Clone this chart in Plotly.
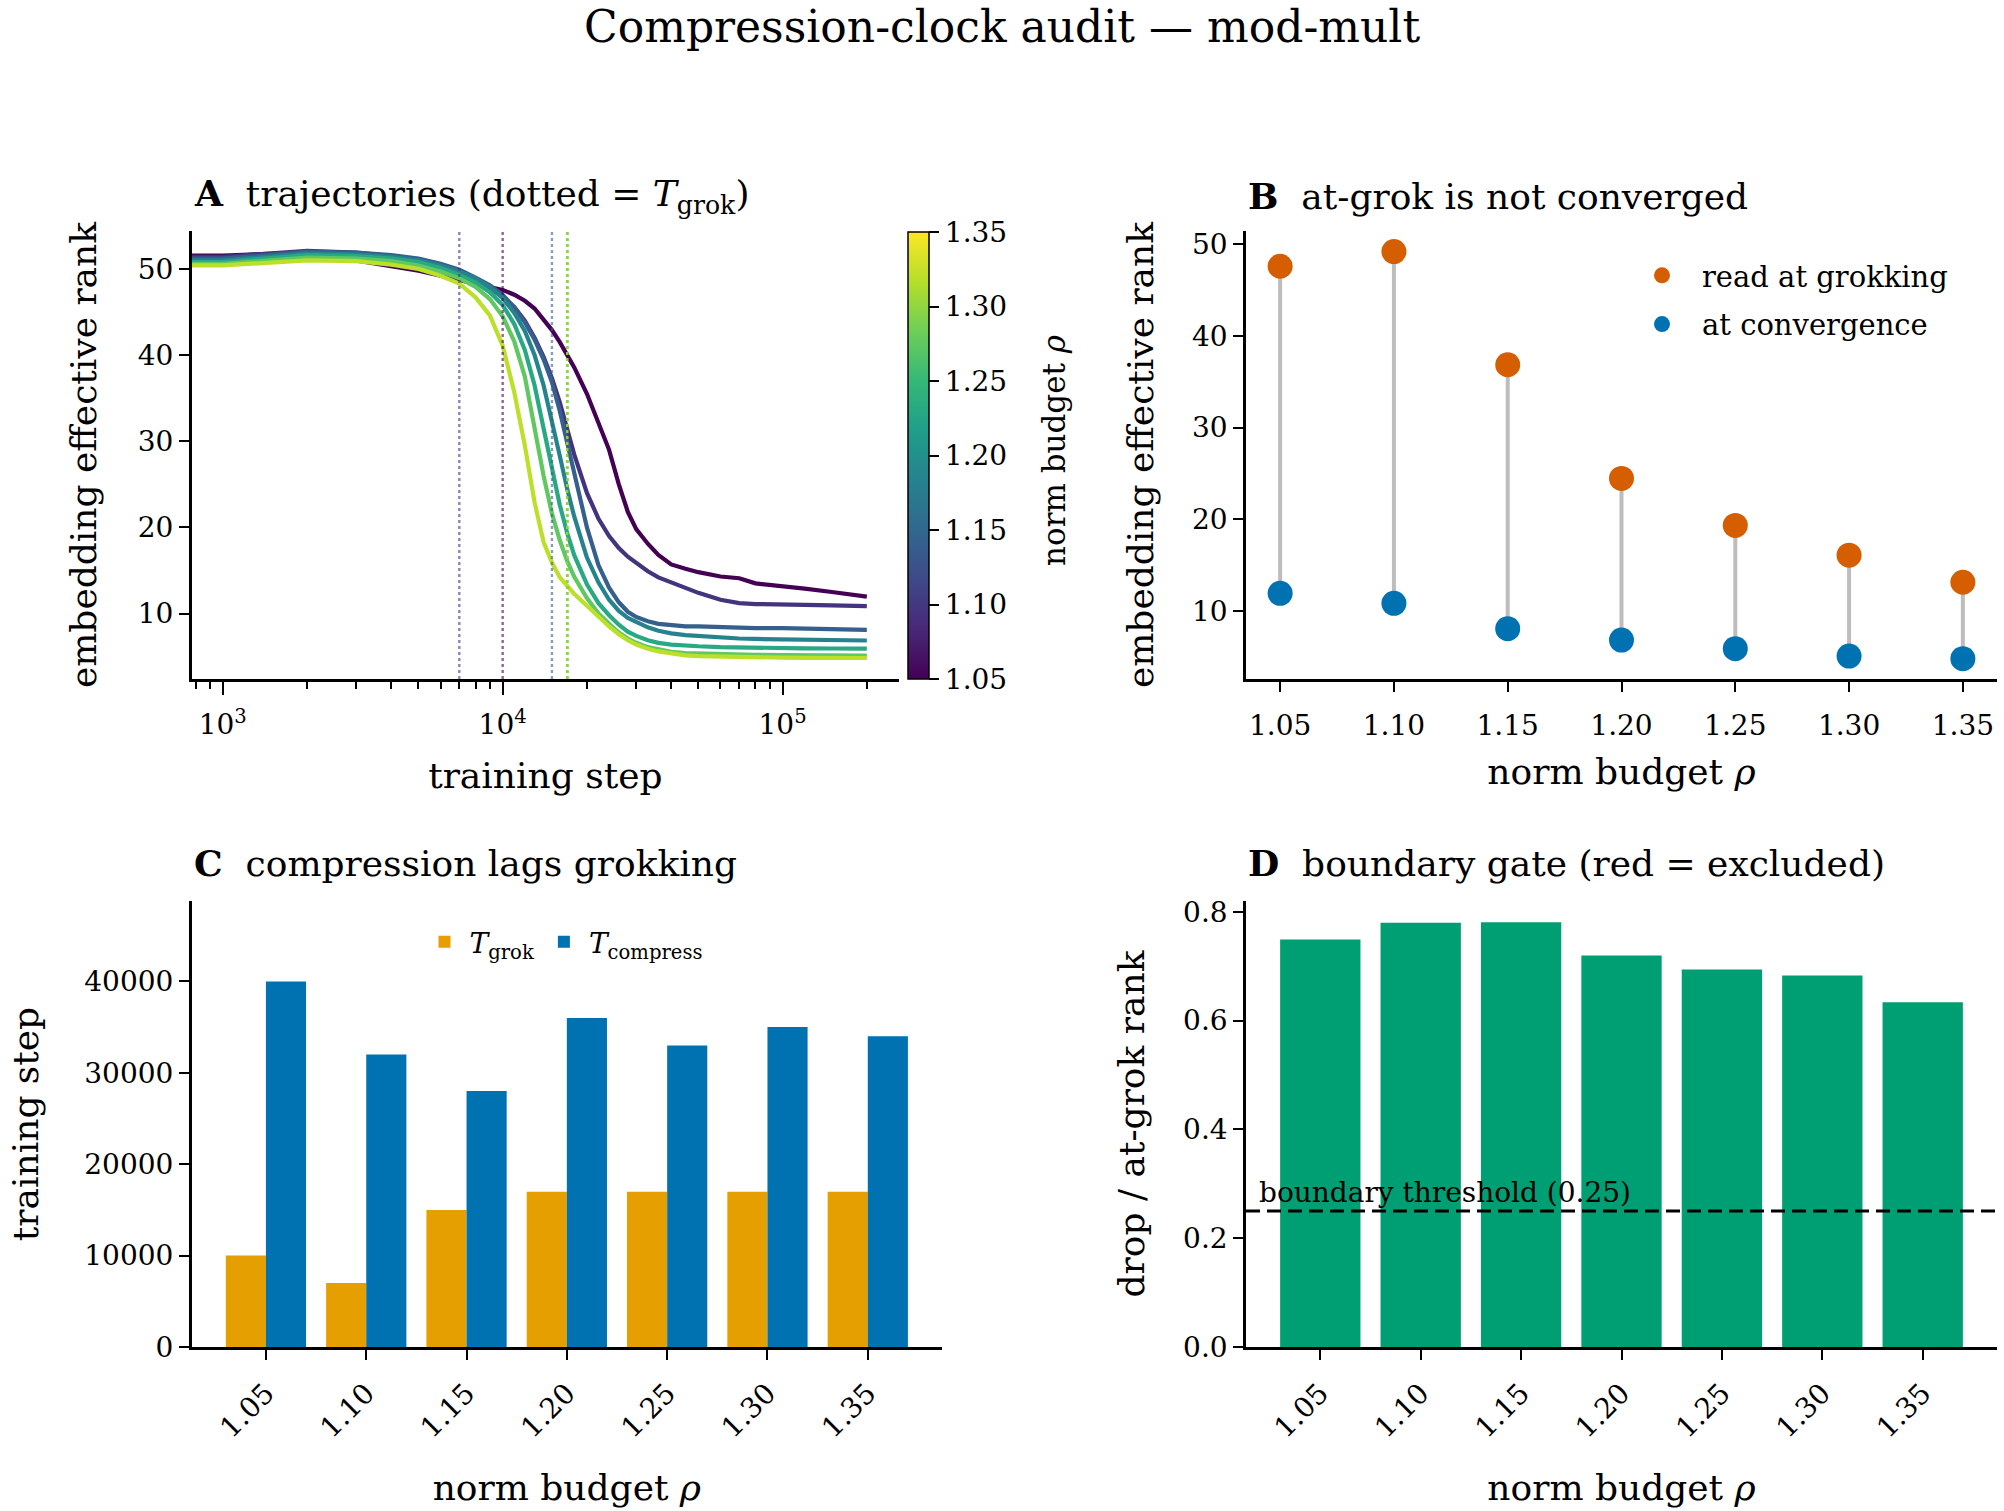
import plotly.graph_objects as go
from plotly.colors import sample_colorscale

FONT = "DejaVu Serif"

# ---------------- data ----------------
RHO = [1.05, 1.10, 1.15, 1.20, 1.25, 1.30, 1.35]
RHO_LABELS = ["1.05", "1.10", "1.15", "1.20", "1.25", "1.30", "1.35"]

STEPS = [0, 1000, 2000, 3000, 4000, 5000, 6000, 7000, 8000, 9000, 10000,
         11000, 12000, 13000, 14000, 15000, 16000, 17000, 18000, 20000,
         22000, 24000, 26000, 28000, 30000, 33000, 36000, 40000, 45000,
         50000, 60000, 70000, 80000, 100000, 120000, 150000, 200000]

rank_105 = [51.55, 51.55, 51.9, 51.0, 50.3, 49.8, 49.2, 48.7, 48.3, 47.9, 47.56,
            47.0, 46.3, 45.4, 44.2, 42.9, 41.5, 39.9, 38.6, 35.5,
            32.2, 29.0, 25.0, 21.8, 19.8, 18.1, 16.8, 15.7, 15.2,
            14.8, 14.3, 14.1, 13.5, 13.2, 12.9, 12.5, 11.96]
rank_110 = [51.4, 51.4, 52.1, 51.9, 51.5, 51.0, 50.3, 49.16, 48.5, 47.7, 46.8,
            45.6, 44.0, 42.0, 39.8, 37.3, 34.5, 31.3, 28.5, 24.0,
            21.0, 19.0, 17.6, 16.6, 15.9, 14.9, 14.2, 13.6, 13.0,
            12.4, 11.6, 11.2, 11.1, 11.1, 11.0, 10.95, 10.87]
rank_115 = [51.2, 51.2, 52.0, 51.9, 51.6, 51.2, 50.6, 49.9, 49.0, 48.1, 47.0,
            45.5, 43.8, 41.8, 39.5, 36.84, 33.5, 29.8, 26.3, 20.0,
            15.6, 13.0, 11.3, 10.2, 9.6, 9.1, 8.8, 8.6, 8.5,
            8.5, 8.4, 8.35, 8.3, 8.3, 8.25, 8.2, 8.11]
rank_120 = [51.0, 51.0, 51.8, 51.7, 51.4, 51.0, 50.4, 49.7, 48.9, 47.9, 46.6,
            44.9, 42.8, 40.0, 36.5, 32.5, 28.3, 24.47, 21.3, 16.5,
            13.6, 11.6, 10.3, 9.5, 9.0, 8.4, 8.0, 7.7, 7.5,
            7.4, 7.2, 7.1, 7.05, 7.0, 6.95, 6.9, 6.87]
rank_125 = [50.8, 50.8, 51.6, 51.5, 51.2, 50.8, 50.1, 49.3, 48.4, 47.3, 45.8,
            43.6, 40.6, 36.5, 31.5, 26.8, 22.6, 19.35, 16.8, 13.4,
            11.2, 9.8, 8.7, 7.9, 7.4, 6.9, 6.6, 6.4, 6.25,
            6.2, 6.1, 6.05, 6.0, 5.98, 5.95, 5.94, 5.93]
rank_130 = [50.6, 50.6, 51.3, 51.2, 50.9, 50.4, 49.7, 48.9, 47.9, 46.5, 44.5,
            41.6, 37.5, 31.5, 26.0, 21.6, 18.5, 16.11, 14.3, 11.8,
            10.0, 8.8, 7.8, 7.1, 6.6, 6.1, 5.8, 5.55, 5.4,
            5.35, 5.3, 5.25, 5.2, 5.18, 5.15, 5.14, 5.13]
rank_135 = [50.4, 50.4, 51.0, 50.9, 50.5, 50.0, 49.2, 48.3, 46.7, 44.6, 41.1,
            35.7, 29.5, 22.9, 18.3, 15.9, 14.2, 13.16, 12.3, 10.9,
            9.6, 8.5, 7.6, 6.9, 6.4, 5.9, 5.6, 5.35, 5.15,
            5.05, 4.98, 4.93, 4.9, 4.88, 4.86, 4.85, 4.84]
TRAJECTORIES = [rank_105, rank_110, rank_115, rank_120, rank_125, rank_130, rank_135]

T_GROK = [10000, 7000, 15000, 17000, 17000, 17000, 17000]
T_COMPRESS = [40000, 32000, 28000, 36000, 33000, 35000, 34000]
RANK_AT_GROK = [47.56, 49.16, 36.84, 24.47, 19.35, 16.11, 13.16]
RANK_CONV = [11.96, 10.87, 8.11, 6.87, 5.93, 5.13, 4.84]
DROP_FRAC = [0.749, 0.780, 0.781, 0.720, 0.694, 0.683, 0.634]
THRESHOLD = 0.25

# ---------------- style ----------------
W, H = 2004, 1511
C_ORANGE = "#D55E00"
C_BLUE = "#0072B2"
C_YELLOW = "#E69F00"
C_GREEN = "#009E73"
LINE_COLORS = sample_colorscale("Viridis", [0.9 * i / 6 for i in range(7)])

YA_RANGE = [2.4, 54.4]


def px_x(p):
    return p / W


def px_y(p):
    return 1 - p / H


def axis_style(**kw):
    d = dict(showline=True, linecolor="black", linewidth=2.5, mirror=False,
             ticks="outside", ticklen=10, tickwidth=2, tickcolor="black",
             showgrid=False, zeroline=False, automargin=False,
             tickfont=dict(family=FONT, size=28, color="black"),
             title_font=dict(family=FONT, size=36, color="black"))
    d.update(kw)
    return d


fig = go.Figure()

# ---- Panel A: trajectories ----
steps_plot = [s if s > 0 else 1 for s in STEPS]  # step 0 lies off the log axis
for rho, traj, col in zip(RHO, TRAJECTORIES, LINE_COLORS):
    fig.add_trace(go.Scatter(x=steps_plot, y=traj, mode="lines",
                             line=dict(color=col, width=4.2),
                             xaxis="x", yaxis="y", showlegend=False,
                             name=f"rho={rho}"))
for tg, col in zip(T_GROK, LINE_COLORS):
    fig.add_trace(go.Scatter(x=[tg, tg], y=YA_RANGE, mode="lines",
                             line=dict(color=col, width=2.4, dash="dot"),
                             opacity=0.6, xaxis="x", yaxis="y",
                             showlegend=False, hoverinfo="skip"))
# colour bar carrier
fig.add_trace(go.Scatter(
    x=[steps_plot[-1]] * len(RHO), y=[t[-1] for t in TRAJECTORIES],
    mode="markers", xaxis="x", yaxis="y", showlegend=False, hoverinfo="skip",
    marker=dict(color=RHO, colorscale="Viridis", cmin=1.05, cmax=1.35,
                opacity=0, size=1, showscale=True,
                colorbar=dict(
                    x=px_x(908), xanchor="left", xref="paper", xpad=0,
                    y=px_y(679), yanchor="bottom", yref="paper", ypad=0,
                    len=447 / H, lenmode="fraction",
                    thickness=21, thicknessmode="pixels",
                    outlinewidth=1.5, outlinecolor="black",
                    ticks="outside", ticklen=10, tickwidth=2, tickcolor="black",
                    tickvals=RHO, ticktext=RHO_LABELS,
                    tickfont=dict(family=FONT, size=28, color="black")))))

# ---- Panel B: dumbbell ----
seg_x, seg_y = [], []
for r, g, c in zip(RHO, RANK_AT_GROK, RANK_CONV):
    seg_x += [r, r, None]
    seg_y += [g, c, None]
fig.add_trace(go.Scatter(x=seg_x, y=seg_y, mode="lines",
                         line=dict(color="#bdbdbd", width=4),
                         xaxis="x2", yaxis="y2", showlegend=False, hoverinfo="skip"))
fig.add_trace(go.Scatter(x=RHO, y=RANK_AT_GROK, mode="markers", name="read at grokking",
                         marker=dict(color=C_ORANGE, size=25),
                         xaxis="x2", yaxis="y2", legend="legend", legendgroup="g1"))
fig.add_trace(go.Scatter(x=RHO, y=RANK_CONV, mode="markers", name="at convergence",
                         marker=dict(color=C_BLUE, size=25),
                         xaxis="x2", yaxis="y2", legend="legend", legendgroup="g2"))

# ---- Panel C: grouped bars ----
fig.add_trace(go.Bar(x=RHO_LABELS, y=T_GROK, name="<i>T</i><sub>grok</sub>",
                     marker=dict(color=C_YELLOW, line=dict(width=0)),
                     xaxis="x3", yaxis="y3", legend="legend2", offsetgroup="g"))
fig.add_trace(go.Bar(x=RHO_LABELS, y=T_COMPRESS, name="<i>T</i><sub>compress</sub>",
                     marker=dict(color=C_BLUE, line=dict(width=0)),
                     xaxis="x3", yaxis="y3", legend="legend2", offsetgroup="c"))

# ---- Panel D: bars ----
fig.add_trace(go.Bar(x=RHO_LABELS, y=DROP_FRAC, marker=dict(color=C_GREEN, line=dict(width=0)),
                     xaxis="x4", yaxis="y4", showlegend=False, width=0.8))

# ---------------- layout ----------------
AX_L, AX_R = px_x(191.7), px_x(899)
CB_R = px_x(942)
BX_L, BX_R = px_x(1246), px_x(1997)
TOP_Y = [px_y(679), px_y(231)]
BOT_Y = [px_y(1347), px_y(901)]

minor_vals = [m * 10 ** e for e in (2, 3, 4, 5) for m in range(2, 10)]

fig.update_layout(
    width=W, height=H, margin=dict(l=0, r=0, t=0, b=0),
    paper_bgcolor="white", plot_bgcolor="white",
    font=dict(family=FONT, color="black"),
    barmode="group", bargap=0.2, bargroupgap=0.0,
    xaxis=axis_style(domain=[AX_L, AX_R], anchor="y", type="log",
                     range=[2.889, 5.416],
                     tickvals=[1000, 10000, 100000],
                     ticktext=["10<sup>3</sup>", "10<sup>4</sup>", "10<sup>5</sup>"],
                     ticklen=13, ticklabelstandoff=6,
                     minor=dict(tickvals=minor_vals, ticks="outside", ticklen=7,
                                tickwidth=1.6, tickcolor="black", showgrid=False),
                     title=dict(text="training step", standoff=23)),
    yaxis=axis_style(domain=TOP_Y, anchor="x", range=YA_RANGE,
                     tickvals=[10, 20, 30, 40, 50],
                     title=dict(text="embedding effective rank", standoff=31)),
    xaxis2=axis_style(domain=[BX_L, BX_R], anchor="y2", range=[1.035, 1.365],
                      tickvals=RHO, ticktext=RHO_LABELS, ticklabelstandoff=10,
                      title=dict(text="norm budget <i>ρ</i>", standoff=18)),
    yaxis2=axis_style(domain=TOP_Y, anchor="x2", range=[2.63, 51.4],
                      tickvals=[10, 20, 30, 40, 50],
                      title=dict(text="embedding effective rank", standoff=28)),
    xaxis3=axis_style(domain=[AX_L, CB_R], anchor="y3", type="category",
                      range=[-0.74, 6.74], tickangle=-45, ticklabelstandoff=6,
                      title=dict(text="norm budget <i>ρ</i>", standoff=32)),
    yaxis3=axis_style(domain=BOT_Y, anchor="x3", range=[0, 48800],
                      tickvals=[0, 10000, 20000, 30000, 40000], tickformat="d",
                      title=dict(text="training step", standoff=35)),
    xaxis4=axis_style(domain=[BX_L, BX_R], anchor="y4", type="category",
                      range=[-0.74, 6.74], tickangle=-45, ticklabelstandoff=6,
                      title=dict(text="norm budget <i>ρ</i>", standoff=32)),
    yaxis4=axis_style(domain=BOT_Y, anchor="x4", range=[0, 0.82],
                      tickvals=[0, 0.2, 0.4, 0.6, 0.8], tickformat=".1f",
                      title=dict(text="drop / at-grok rank", standoff=28)),
    legend=dict(x=px_x(1622), y=px_y(250), xanchor="left", yanchor="top",
                bgcolor="rgba(0,0,0,0)", itemwidth=70, tracegroupgap=8,
                font=dict(family=FONT, size=29, color="black")),
    legend2=dict(x=px_x(564), y=px_y(942), xanchor="center", yanchor="middle",
                 orientation="h", bgcolor="rgba(0,0,0,0)", itemwidth=40,
                 font=dict(family=FONT, size=28, color="black")),
    shapes=[dict(type="line", xref="x4 domain", yref="y4", x0=0, x1=1,
                 y0=THRESHOLD, y1=THRESHOLD,
                 line=dict(color="black", width=3, dash="14px,7px"))],
)

annotations = [
    dict(text="Compression-clock audit — mod-mult", x=0.5, y=px_y(26),
         xref="paper", yref="paper", showarrow=False, xanchor="center", yanchor="middle",
         font=dict(family=FONT, size=44, color="black")),
    dict(text="<b>A</b>\u00a0\u00a0trajectories (dotted = <i>T</i><sub>grok</sub>)",
         x=AX_L, y=px_y(196), xref="paper", yref="paper", showarrow=False,
         xanchor="left", yanchor="middle", font=dict(family=FONT, size=36, color="black")),
    dict(text="<b>B</b>\u00a0\u00a0at-grok is not converged",
         x=BX_L, y=px_y(196), xref="paper", yref="paper", showarrow=False,
         xanchor="left", yanchor="middle", font=dict(family=FONT, size=36, color="black")),
    dict(text="<b>C</b>\u00a0\u00a0compression lags grokking",
         x=AX_L, y=px_y(863), xref="paper", yref="paper", showarrow=False,
         xanchor="left", yanchor="middle", font=dict(family=FONT, size=36, color="black")),
    dict(text="<b>D</b>\u00a0\u00a0boundary gate (red = excluded)",
         x=BX_L, y=px_y(863), xref="paper", yref="paper", showarrow=False,
         xanchor="left", yanchor="middle", font=dict(family=FONT, size=36, color="black")),
    dict(text="norm budget <i>ρ</i>", x=px_x(1054), y=px_y(451),
         xref="paper", yref="paper", showarrow=False, textangle=-90,
         xanchor="center", yanchor="middle", font=dict(family=FONT, size=31, color="black")),
    dict(text=f"boundary threshold ({THRESHOLD:.2f})", x=0.015, y=THRESHOLD,
         xref="x4 domain", yref="y4", showarrow=False, xanchor="left", yanchor="bottom",
         font=dict(family=FONT, size=28, color="black")),
]
fig.update_layout(annotations=annotations)

fig.write_html("out.html")
